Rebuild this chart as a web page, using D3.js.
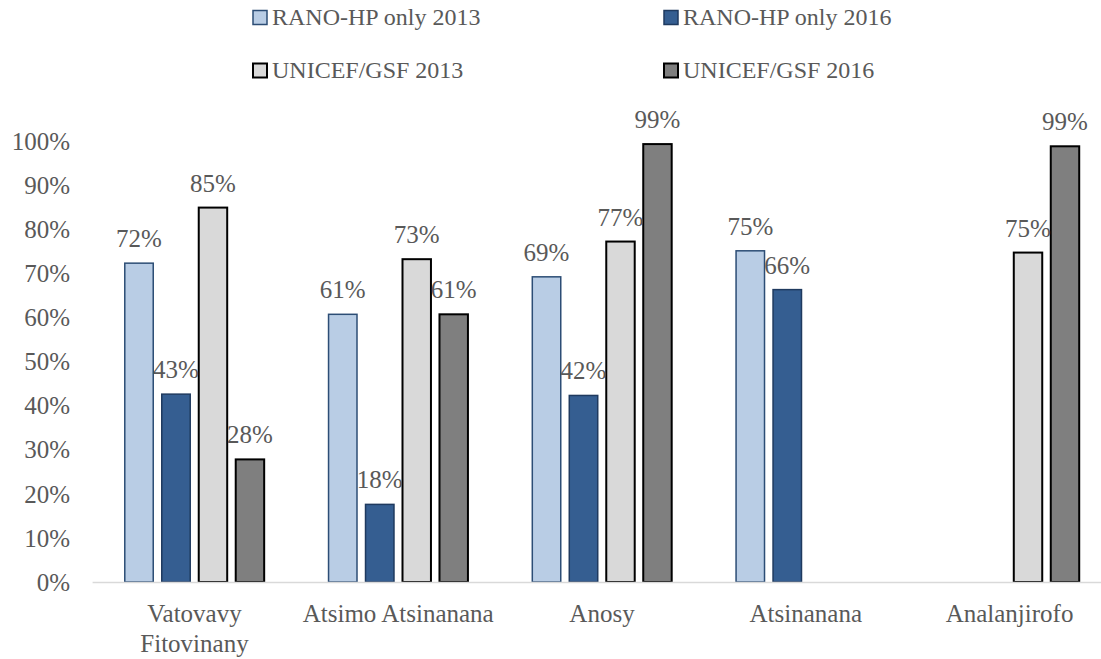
<!DOCTYPE html>
<html>
<head>
<meta charset="utf-8">
<script src="https://cdn.jsdelivr.net/npm/d3@7"></script>
<style>
  html, body { margin: 0; padding: 0; background: #fff; overflow: hidden; }
  svg text { font-family: "Liberation Serif", serif; fill: #595959; }
</style>
</head>
<body>
<svg id="chart" width="1101" height="659"></svg>
<script>
// Regions (categories) and the four series, as shares of 1
const categories = ["Vatovavy Fitovinany", "Atsimo Atsinanana", "Anosy", "Atsinanana", "Analanjirofo"];
const seriesNames = ["RANO-HP only 2013", "RANO-HP only 2016", "UNICEF/GSF 2013", "UNICEF/GSF 2016"];
const ranoHp2013    = [0.723, 0.607, 0.692, 0.751, null];
const ranoHp2016    = [0.426, 0.176, 0.423, 0.663, null];
const unicefGsf2013 = [0.849, 0.732, 0.772, null, 0.747];
const unicefGsf2016 = [0.278, 0.607, 0.993, null, 0.988];
const yTicks = [0, 0.1, 0.2, 0.3, 0.4, 0.5, 0.6, 0.7, 0.8, 0.9, 1.0];

const seriesValues = [ranoHp2013, ranoHp2016, unicefGsf2013, unicefGsf2016];
const fills   = ["#b9cde5", "#355e91", "#d9d9d9", "#7f7f7f"];
const strokes = ["#2c4d75", "#1f3a5f", "#000000", "#000000"];

const svg = d3.select("#chart");
const W = 1101;
const plotLeft = 92.6, plotRight = 1111.4;   // plot runs slightly past the right edge
const yBase = 582, yTop = 141;

const x0 = d3.scaleBand().domain(categories).range([plotLeft, plotRight]).paddingInner(0).paddingOuter(0);
const x1 = d3.scaleBand().domain(seriesNames).range([0, x0.bandwidth()]).paddingInner(0.19).paddingOuter(0.85);
const y = d3.scaleLinear().domain([0, 1]).range([yBase, yTop]);
const pct = d3.format(".0%");

// Y axis labels (no line, no ticks)
const yAxis = d3.axisLeft(y).tickValues(yTicks).tickFormat(pct).tickSize(0).tickPadding(0);
const yg = svg.append("g").attr("transform", "translate(70,0)").call(yAxis);
yg.select(".domain").remove();
yg.selectAll("text")
  .attr("font-size", 25)
  .style("font-family", "Liberation Serif")
  .attr("fill", "#595959")
  .attr("dy", "0.33em");

// Bars
const rows = [];
seriesValues.forEach((vals, si) => {
  vals.forEach((v, ci) => {
    if (v !== null) rows.push({ s: seriesNames[si], si, c: categories[ci], v });
  });
});

svg.append("g").selectAll("rect").data(rows).join("rect")
  .attr("x", d => x0(d.c) + x1(d.s) + 0.75)
  .attr("width", x1.bandwidth() - 1.5)
  .attr("y", d => y(d.v))
  .attr("height", d => y(0) - y(d.v))
  .attr("fill", d => fills[d.si])
  .attr("stroke", d => strokes[d.si])
  .attr("stroke-width", d => d.si >= 2 ? 2 : 1.5);

// X axis baseline
svg.append("line")
  .attr("x1", plotLeft).attr("x2", W)
  .attr("y1", y(0) + 0.5).attr("y2", y(0) + 0.5)
  .attr("stroke", "#d9d9d9").attr("stroke-width", 1.5);

// Value labels
svg.append("g").selectAll("text").data(rows).join("text")
  .attr("x", d => x0(d.c) + x1(d.s) + x1.bandwidth() / 2)
  .attr("y", d => y(d.v) - 16)
  .attr("text-anchor", "middle")
  .attr("font-size", 25)
  .text(d => pct(d.v));

// Category labels (first region wraps onto two lines)
const catWrap = { "Vatovavy Fitovinany": ["Vatovavy", "Fitovinany"] };
const catG = svg.append("g");
categories.forEach(c => {
  const cx = x0(c) + x0.bandwidth() / 2;
  const lines = catWrap[c] || [c];
  const t = catG.append("text")
    .attr("x", cx)
    .attr("y", 621.5)
    .attr("text-anchor", "middle")
    .attr("font-size", 25);
  lines.forEach((ln, i) => {
    t.append("tspan").attr("x", cx).attr("dy", i === 0 ? 0 : 30).text(ln);
  });
});

// Legend, two columns by two rows
const legendPos = [[253, 17.5], [664, 17.5], [253, 70.5], [664, 70.5]];
const lg = svg.append("g");
seriesNames.forEach((s, i) => {
  const [lx, ly] = legendPos[i];
  lg.append("rect")
    .attr("x", lx).attr("y", ly - 7).attr("width", 14).attr("height", 14)
    .attr("fill", fills[i]).attr("stroke", strokes[i]).attr("stroke-width", i >= 2 ? 2 : 1.5);
  lg.append("text")
    .attr("x", lx + 19).attr("y", ly).attr("dy", "0.33em")
    .attr("font-size", 24).text(s);
});
</script>
</body>
</html>
